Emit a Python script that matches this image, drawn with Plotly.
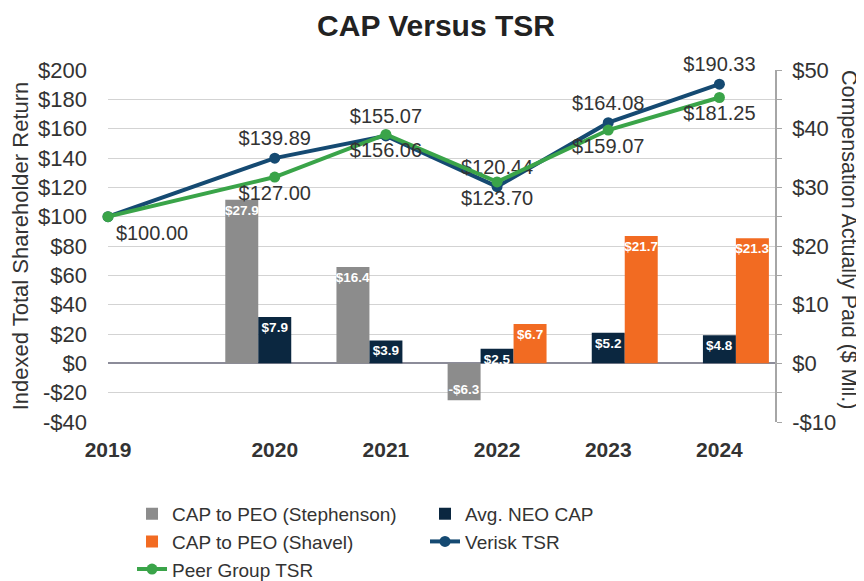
import plotly.graph_objects as go

# ---- data ----
years = ["2019", "2020", "2021", "2022", "2023", "2024"]
cap_stephenson = [None, 27.9, 16.4, -6.3, None, None]
avg_neo_cap = [None, 7.9, 3.9, 2.5, 5.2, 4.8]
cap_shavel = [None, None, None, 6.7, 21.7, 21.3]
verisk_tsr = [100.00, 139.89, 155.07, 120.44, 164.08, 190.33]
peer_tsr = [100.00, 127.00, 156.06, 123.70, 159.07, 181.25]
tsr_ticks = [-40, -20, 0, 20, 40, 60, 80, 100, 120, 140, 160, 180, 200]
cap_ticks = [-10, 0, 10, 20, 30, 40, 50]

FONT = "Liberation Sans, Arial, sans-serif"
TXT = "#333333"


# base year sits at the axis origin, later years centred in their slots
def slot(i):
    return 0.0 if i == 0 else i + 0.5


xs = [slot(i) for i in range(len(years))]


def money(v, nd=0):
    if v is None:
        return ""
    s = f"${abs(v):.{nd}f}"
    return "-" + s if v < 0 else s


fig = go.Figure()

bar_specs = [
    ("CAP to PEO (Stephenson)", cap_stephenson, "#8c8c8c"),
    ("Avg. NEO CAP", avg_neo_cap, "#0b2740"),
    ("CAP to PEO (Shavel)", cap_shavel, "#f26b22"),
]
for name, vals, col in bar_specs:
    fig.add_trace(go.Bar(
        x=xs, y=vals, name=name, marker=dict(color=col, line=dict(width=0)),
        text=[money(v, 1) for v in vals], textposition="inside", textangle=0,
        insidetextanchor="end", constraintext="none",
        textfont=dict(family=FONT, size=13.5, color="white", weight="bold"),
        cliponaxis=False, yaxis="y",
    ))

fig.add_trace(go.Scatter(
    x=xs, y=verisk_tsr, name="Verisk TSR", mode="lines+markers+text",
    line=dict(color="#154a72", width=4), marker=dict(size=11, color="#154a72"),
    text=[""] + [money(v, 2) for v in verisk_tsr[1:]], textposition="top center",
    textfont=dict(family=FONT, size=20, color=TXT), cliponaxis=False, yaxis="y2",
))
fig.add_trace(go.Scatter(
    x=xs, y=peer_tsr, name="Peer Group TSR", mode="lines+markers+text",
    line=dict(color="#3aa449", width=4), marker=dict(size=11, color="#3aa449"),
    text=[money(v, 2) for v in peer_tsr],
    textposition=["bottom right"] + ["bottom center"] * (len(peer_tsr) - 1),
    textfont=dict(family=FONT, size=20, color=TXT), cliponaxis=False, yaxis="y2",
))

fig.update_layout(
    width=856, height=573,
    margin=dict(l=100, r=89, t=62, b=159, autoexpand=False),
    paper_bgcolor="white", plot_bgcolor="white",
    font=dict(family=FONT, color=TXT),
    title=dict(text="<b>CAP Versus TSR</b>", x=0.5, xanchor="center",
               y=0.969, yanchor="middle",
               font=dict(family=FONT, size=30, color="#222222")),
    barmode="group", bargap=0.11, bargroupgap=0,
    xaxis=dict(range=[0, 6], tickvals=xs, ticktext=years, showgrid=False,
               zeroline=False, showline=False, ticks="",
               tickfont=dict(family=FONT, size=21, color=TXT, weight="bold"),
               ticklabelstandoff=13),
    yaxis=dict(side="right", range=[-10, 50], tickvals=cap_ticks,
               ticktext=[money(v) for v in cap_ticks],
               showgrid=True, gridcolor="#d3d3d3", gridwidth=1,
               minor=dict(dtick=5, showgrid=True, gridcolor="#d3d3d3",
                          ticks="outside", ticklen=5, tickcolor="#a6a6a6"),
               ticks="outside", ticklen=5, tickcolor="#a6a6a6",
               showline=True, linecolor="#a6a6a6", linewidth=1.5,
               zeroline=True, zerolinecolor="#8c8c99", zerolinewidth=2,
               tickfont=dict(family=FONT, size=22, color=TXT),
               ticklabelstandoff=6),
    yaxis2=dict(side="left", overlaying="y", range=[-40, 200], tickvals=tsr_ticks,
                ticktext=[money(v) for v in tsr_ticks],
                showgrid=False, zeroline=False, showline=False,
                ticks="", tickfont=dict(family=FONT, size=22, color=TXT),
                ticklabelstandoff=20,
                title=dict(text="Indexed Total Shareholder Return",
                           font=dict(family=FONT, size=22, color=TXT), standoff=6)),
    legend=dict(orientation="h", x=0.036, xanchor="left", y=-0.207, yanchor="top",
                entrywidth=248, entrywidthmode="pixels",
                font=dict(family=FONT, size=19, color=TXT), traceorder="normal",
                bgcolor="rgba(0,0,0,0)"),
    showlegend=True,
)

fig.add_annotation(
    text="Compensation Actually Paid ($ Mil.)", xref="paper", yref="paper",
    x=1.0, xanchor="center", xshift=74, y=0.52, yanchor="middle",
    textangle=90, showarrow=False,
    font=dict(family=FONT, size=21.5, color=TXT),
)

fig.write_html("out.html")
